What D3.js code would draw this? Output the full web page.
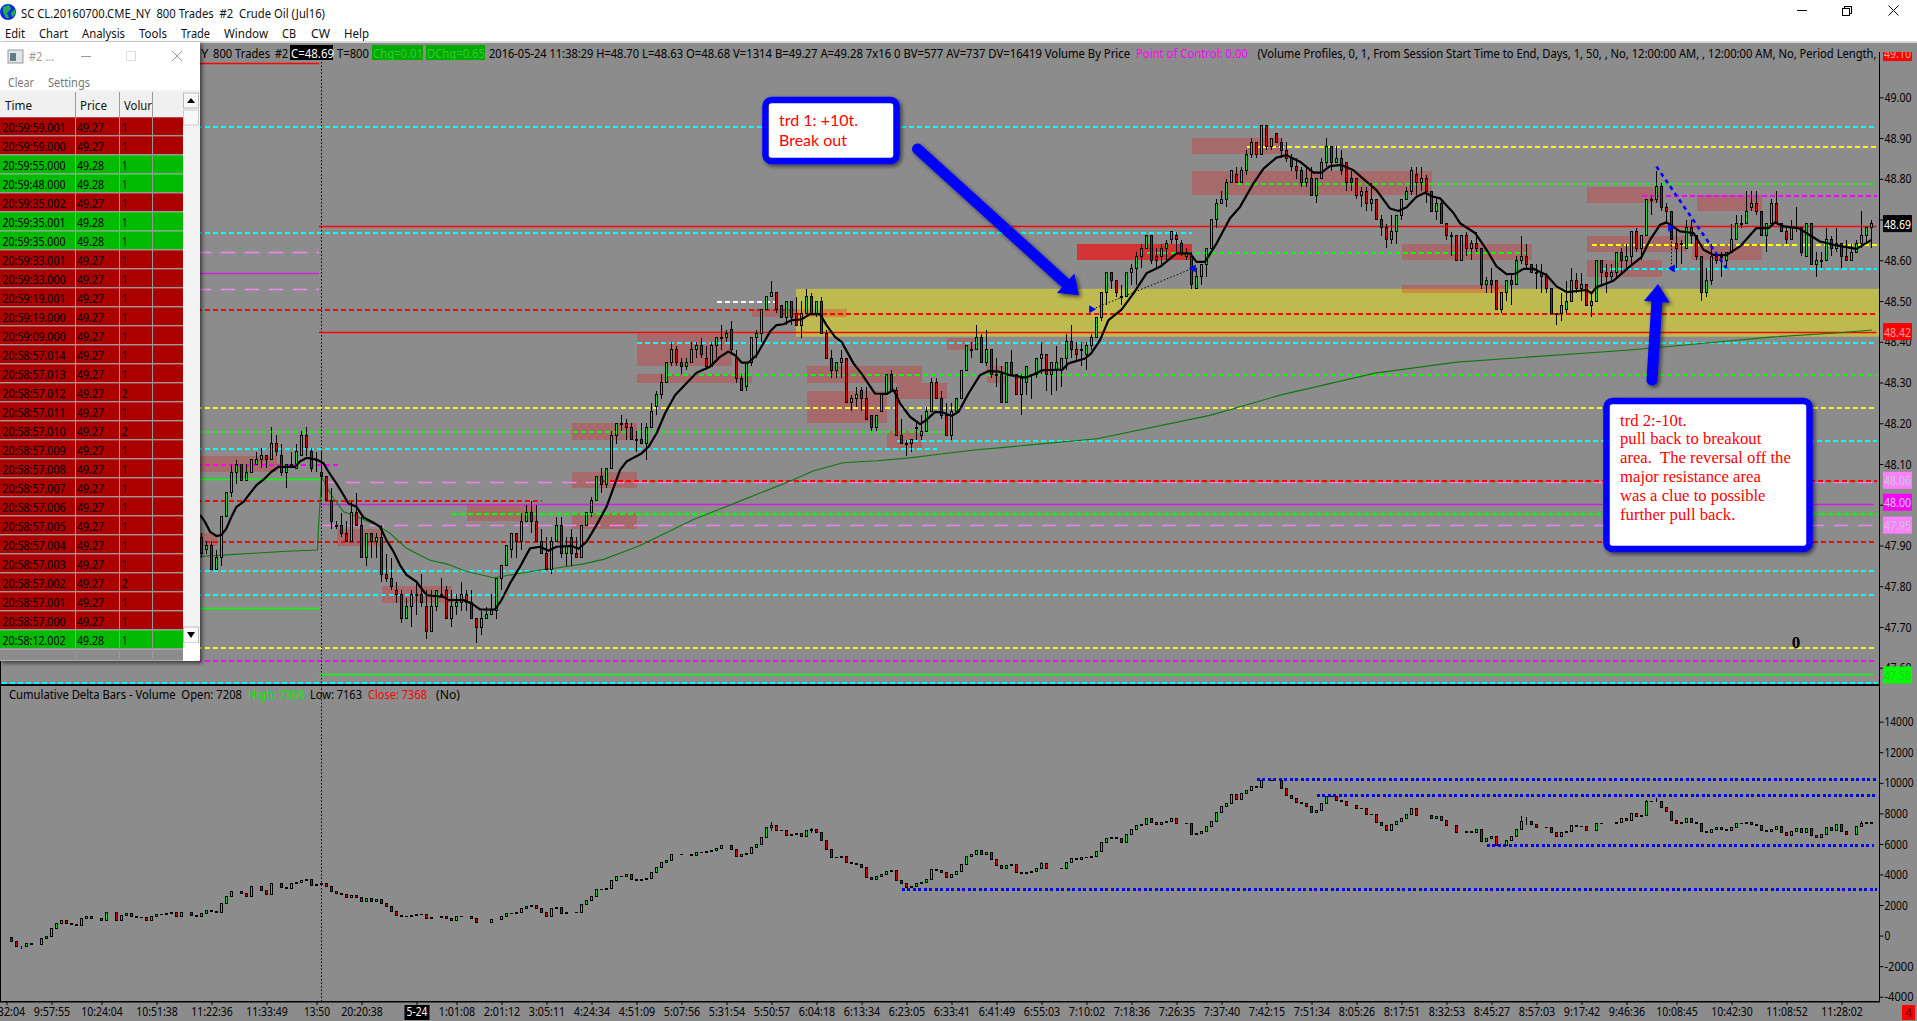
<!DOCTYPE html>
<html><head><meta charset="utf-8">
<script src="https://cdn.jsdelivr.net/npm/d3@7"></script>
<style>html,body{margin:0;padding:0;background:#fff;overflow:hidden}svg{display:block}</style>
</head><body><div id="c"></div>
<script>
// ===== PRICE BARS: [open, high, low, close] in hundredths of a dollar =====
const startA=40, priceBarsA=[
[4792,4793,4787,4788],[4789,4791,4788,4790],[4790,4791,4784,4784],[4784,4789,4784,4787],[4787,4797,4785,4797],[4797,4803,4797,4803],[4803,4810,4802,4808],[4808,4811,4805,4810],[4810,4810,4806,4806],[4806,4810,4806,4808],
[4808,4811,4808,4811],[4810,4813,4810,4811],[4811,4814,4809,4812],[4812,4812,4809,4811],[4811,4819,4811,4815],[4815,4817,4812,4813],[4812,4815,4807,4808],[4808,4810,4804,4810],[4810,4813,4809,4810],[4809,4815,4809,4813],
[4812,4818,4812,4817],[4817,4819,4812,4814],[4813,4814,4808,4809],[4811,4813,4808,4811],[4808,4813,4802,4807],[4807,4807,4801,4801],[4801,4804,4794,4796],[4795,4796,4794,4795],[4795,4798,4792,4793],[4793,4796,4791,4791],
[4791,4801,4791,4798],[4798,4803,4795,4795],[4795,4797,4787,4787],[4787,4793,4785,4793],[4793,4793,4787,4791],[4791,4793,4787,4792],[4792,4795,4781,4783],[4783,4788,4781,4782],[4782,4787,4779,4780],[4779,4781,4776,4778],
[4778,4779,4771,4772],[4772,4777,4772,4775],[4775,4779,4770,4778],[4778,4781,4773,4778],[4778,4783,4775,4776],[4775,4779,4767,4769],[4769,4779,4769,4775],[4775,4779,4774,4779],[4778,4782,4777,4778],[4779,4780,4772,4772],
[4772,4779,4770,4775],[4775,4778,4773,4776],[4776,4781,4774,4778],[4778,4779,4774,4776],[4776,4779,4772,4772],[4772,4772,4766,4770],[4770,4774,4768,4772],[4772,4775,4772,4773],[4773,4778,4773,4774],[4774,4782,4772,4782],
[4782,4785,4779,4785],[4785,4790,4785,4790],[4789,4793,4787,4793],[4793,4793,4787,4791],[4791,4798,4789,4796],[4796,4800,4796,4798],[4798,4801,4793,4796],[4796,4800,4791,4791],[4791,4794,4788,4788],[4788,4792,4784,4784],
[4784,4792,4783,4791],[4791,4797,4791,4795],[4795,4797,4787,4788],[4788,4792,4785,4790],[4792,4794,4785,4788],[4788,4792,4787,4787],[4787,4795,4787,4795],[4795,4798,4795,4798],[4798,4802,4797,4801],[4801,4807,4801,4807],
[4807,4809,4803,4805],[4805,4809,4804,4809],[4809,4818,4809,4817],[4817,4820,4815,4820]];
const startB=124, priceBarsB=[
[4820,4822,4818,4820],[4820,4821,4816,4819],[4819,4820,4816,4816],[4816,4818,4813,4816],[4816,4820,4815,4815],[4815,4820,4811,4819],[4819,4825,4819,4823],[4824,4828,4822,4827],[4827,4832,4826,4830],[4830,4835,4830,4835],
[4835,4840,4834,4838],[4838,4839,4834,4835],[4835,4836,4832,4834],[4834,4836,4833,4835],[4835,4840,4835,4838],[4838,4840,4836,4839],[4839,4841,4836,4837],[4836,4839,4833,4834],[4834,4840,4834,4839],[4839,4841,4836,4841],
[4841,4844,4838,4841],[4841,4843,4840,4842],[4843,4845,4837,4838],[4836,4838,4830,4831],[4831,4832,4828,4828],[4829,4835,4828,4835],[4835,4841,4834,4841],[4841,4843,4836,4842],[4842,4848,4840,4848],[4848,4851,4848,4851],
[4851,4855,4851,4852],[4852,4852,4847,4848],[4849,4849,4846,4846],[4846,4850,4844,4850],[4850,4850,4844,4846],[4847,4851,4844,4844],[4844,4850,4841,4847],[4847,4853,4847,4851],[4851,4852,4847,4847],[4847,4850,4846,4850],
[4850,4851,4842,4842],[4842,4843,4836,4836],[4836,4838,4831,4833],[4833,4835,4831,4835],[4835,4838,4831,4836],[4836,4836,4825,4825],[4825,4827,4823,4826],[4826,4829,4824,4827],[4828,4829,4823,4826],[4826,4829,4821,4821],
[4822,4822,4818,4819],[4819,4822,4818,4822],[4823,4827,4823,4827],[4827,4832,4827,4832],[4832,4833,4828,4828],[4828,4829,4817,4817],[4817,4821,4815,4815],[4815,4816,4812,4815],[4815,4816,4813,4816],[4819,4820,4816,4819],
[4817,4822,4816,4818],[4818,4824,4818,4823],[4823,4831,4823,4830],[4830,4831,4826,4826],[4826,4828,4821,4822],[4822,4825,4817,4817],[4817,4825,4816,4823],[4823,4826,4823,4826],[4826,4833,4826,4833],[4833,4839,4833,4839],
[4838,4840,4836,4838],[4838,4844,4838,4841],[4841,4842,4835,4835],[4835,4843,4834,4838],[4838,4838,4831,4832],[4832,4836,4829,4832],[4832,4834,4825,4825],[4825,4835,4825,4835],[4835,4838,4832,4832],[4832,4832,4827,4827],
[4827,4832,4822,4831],[4830,4834,4827,4834]];
const startC=206, priceBarsC=[
[4832,4832,4826,4832],[4832,4836,4831,4836],[4836,4840,4832,4837],[4837,4837,4828,4832],[4832,4835,4827,4835],[4833,4839,4828,4835],[4833,4836,4829,4836],[4836,4842,4833,4840],[4840,4844,4836,4838],[4838,4840,4835,4837],
[4838,4840,4834,4838],[4837,4840,4833,4839],[4839,4842,4838,4841],[4841,4846,4841,4846],[4846,4852,4845,4852],[4852,4857,4849,4857],[4857,4857,4853,4855],[4855,4855,4851,4852],[4851,4854,4849,4851],[4851,4857,4851,4857],
[4857,4859,4854,4858],[4858,4862,4854,4861],[4861,4864,4858,4863],[4863,4866,4863,4866],[4866,4866,4859,4860],[4861,4863,4858,4860],[4861,4864,4859,4863],[4863,4865,4860,4864],[4865,4867,4864,4867],[4866,4867,4862,4865],
[4864,4865,4861,4862],[4861,4863,4860,4862],[4861,4862,4853,4854],[4853,4858,4853,4856],[4856,4859,4854,4859],[4859,4863,4856,4863],[4863,4870,4863,4870],[4870,4875,4868,4874],[4874,4877,4874,4875],[4875,4880,4873,4879],
[4879,4882,4879,4882],[4881,4883,4879,4879],[4879,4883,4879,4882],[4882,4887,4881,4886],[4886,4890,4885,4889],[4889,4889,4885,4886],[4886,4893,4886,4893],[4893,4893,4887,4888],[4888,4890,4887,4890],[4891,4891,4889,4889],
[4889,4890,4885,4887],[4887,4889,4884,4885],[4885,4886,4882,4883],[4883,4885,4880,4882],[4882,4883,4878,4879],[4879,4883,4878,4880],[4880,4883,4876,4876],[4876,4880,4874,4880],[4880,4885,4880,4884],[4884,4890,4883,4888],
[4888,4888,4882,4884],[4884,4888,4884,4885],[4885,4887,4881,4882],[4884,4884,4877,4879],[4880,4882,4877,4879],[4880,4880,4875,4876],[4876,4878,4873,4877],[4877,4878,4872,4874],[4874,4879,4872,4875],[4875,4875,4870,4870],
[4870,4871,4866,4868],[4868,4869,4863,4865],[4865,4871,4864,4867],[4867,4871,4864,4871],[4871,4875,4870,4875],[4875,4878,4875,4877],[4877,4883,4876,4882],[4881,4883,4876,4879],[4879,4883,4877,4880],[4880,4881,4874,4877],
[4877,4877,4872,4872],[4872,4875,4870,4874]];
const startD=288, priceBarsD=[
[4874,4875,4869,4869],[4869,4869,4865,4866],[4866,4867,4861,4866],[4866,4866,4860,4860],[4860,4866,4860,4866],[4866,4867,4861,4863],[4863,4865,4860,4864],[4864,4867,4862,4863],[4863,4863,4853,4854],[4854,4856,4852,4855],
[4855,4858,4852,4854],[4855,4855,4848,4848],[4848,4852,4847,4852],[4852,4855,4850,4855],[4855,4857,4849,4854],[4854,4861,4854,4860],[4860,4866,4859,4861],[4861,4864,4858,4859],[4859,4859,4857,4857],[4857,4859,4853,4857],
[4857,4859,4852,4856],[4856,4857,4852,4853],[4853,4853,4847,4847],[4847,4847,4844,4847],[4847,4852,4845,4849],[4848,4855,4847,4850],[4850,4858,4850,4855],[4855,4857,4852,4853],[4853,4857,4850,4854],[4854,4854,4849,4849],
[4849,4852,4846,4850],[4850,4860,4850,4860],[4860,4860,4854,4857],[4857,4859,4852,4856],[4856,4859,4855,4857],[4857,4862,4856,4862],[4862,4863,4857,4860],[4860,4864,4858,4861],[4861,4867,4859,4867],[4867,4868,4862,4863],
[4863,4866,4860,4866],[4866,4875,4866,4875],[4875,4876,4871,4875],[4875,4882,4874,4878],[4878,4879,4872,4873],[4873,4874,4869,4872],[4872,4872,4865,4865],[4864,4868,4858,4863],[4864,4865,4859,4864],[4863,4870,4863,4868],
[4868,4870,4864,4866],[4866,4866,4860,4861],[4861,4861,4850,4852],[4852,4858,4851,4855],[4855,4864,4854,4861],[4861,4862,4859,4860],[4861,4862,4856,4861],[4860,4862,4858,4862],[4862,4869,4862,4865],[4865,4871,4865,4869],
[4869,4871,4868,4869],[4869,4877,4869,4872],[4873,4877,4872,4874],[4874,4877,4871,4872],[4872,4872,4866,4866],[4866,4869,4862,4869],[4869,4875,4869,4874],[4874,4877,4869,4869],[4869,4869,4867,4867],[4867,4868,4864,4865],
[4865,4870,4865,4868],[4868,4873,4867,4868],[4868,4868,4861,4862],[4861,4869,4861,4869],[4869,4869,4859,4859],[4859,4862,4856,4860],[4860,4862,4858,4860],[4860,4868,4860,4865],[4865,4866,4861,4863],[4863,4868,4862,4864],
[4864,4864,4858,4861],[4861,4865,4860,4860],[4860,4864,4860,4862],[4862,4865,4862,4864],[4864,4872,4863,4866],[4866,4868,4864,4868],[4868,4870,4863,4869]];

// ===== MOVING AVERAGES: [bar, price in hundredths] =====
const blackAverage=[[39.7,4797.5],[40.7,4795.8],[41.7,4793.4],[43,4792.3],[44,4792.6],[45,4794.2],[46,4797.1],[47,4799.5],[48.4,4800.7],[49.7,4802.8],[51,4804.8],[52.7,4806.5],[54,4808.1],[55.4,4809.3],[58.7,4809.3],[59.7,4810.6],[61,4811.5],[63,4811.1],[64.4,4810.2],[65.4,4808.1],[67,4805.2],[68.4,4802.4],[69.4,4800.3],[71,4799.5],[72.4,4796.9],[74.4,4795.6],[75.7,4794.6],[77,4791.3],[78.4,4788.5],[79.7,4785.2],[81,4782.8],[83,4781.1],[85,4777.8],[88.4,4777.4],[89.4,4776.6],[92.4,4776.6],[94,4775.8],[95.7,4774.3],[98.7,4774.3],[100,4776.6],[101.7,4780.7],[103.7,4784.8],[105.7,4789.3],[107.7,4789.7],[109.4,4788.7],[111,4789.7],[114,4789.9],[115.4,4789.2],[117,4790.9],[119,4795],[121,4799.5],[123.7,4808.5],[125,4810.6],[128,4812.6],[129.4,4814.2],[131,4817.5],[132.7,4822.4],[134.7,4826.9],[137,4829.8],[139,4832.4],[141.7,4833.9],[143.7,4836.3],[145.4,4837.6],[146.7,4836.7],[148,4834.9],[149.4,4834.9],[151,4836.7],[153.7,4842.5],[155,4844.1],[156.4,4844.3],[158,4845.3],[160,4845.5],[161.7,4846.8],[163.7,4846.8],[165,4844.1],[166.7,4841.2],[168,4840],[170.4,4834.7],[172,4832.2],[174.7,4827.3],[177,4827.2],[178.4,4828.2],[179.7,4824.9],[181.7,4821.6],[183.7,4819.8],[185,4820.8],[186.7,4822.8],[188.4,4822.6],[190,4821.8],[191.4,4822.8],[193.4,4827.3],[195.7,4831.8],[197.4,4832.8],[199.4,4832.7],[201.7,4831.8],[204.8,4831.2],[206.9,4832.2],[208.1,4833],[212.2,4833.2],[213.4,4834.7],[216.7,4835.9],[217.9,4837.1],[219.7,4840.4],[221.4,4845.3],[224,4847.9],[226.4,4851.9],[229,4856.8],[231.7,4858.4],[235,4861.7],[237.7,4861.7],[239,4859.6],[240.7,4859.6],[243,4864.1],[245.7,4870.3],[247.7,4873.1],[250.4,4878.9],[252.4,4882.5],[255,4885.2],[257,4885.8],[259.7,4884.2],[262.4,4881.5],[264,4881.5],[265.7,4883.1],[268,4883.4],[270.4,4882.1],[273,4879.3],[275,4877.2],[277.7,4872.7],[279.4,4872.1],[281,4873],[283,4875.6],[284.7,4876.6],[286.4,4875.6],[287.7,4875.2],[290.4,4871.6],[291.7,4869.1],[294.7,4866.7],[297,4862.6],[299,4858.5],[301,4856.6],[302.7,4856.7],[304.4,4857.9],[306.4,4857.9],[309,4856.4],[311,4853.6],[313,4852.2],[317,4852.7],[318,4851.9],[319,4853.4],[322.4,4855],[325.7,4858.5],[328,4860.8],[329.7,4865],[331.7,4868.7],[333,4869.3],[335.7,4867.1],[338.4,4866.7],[340.4,4862.6],[342.4,4861.3],[345,4861.3],[347.7,4863.4],[351,4867.9],[353.4,4867.9],[354.7,4869.3],[356.4,4868.3],[359.4,4867.9],[363.7,4864.6],[366.4,4863.8],[371,4862.8],[374,4865]];
const greenAverage=[[39.7,4787.3],[45,4787.7],[50.4,4788.1],[57,4788.6],[63.2,4788.9],[63.4,4794.6],[63.7,4800.3],[64,4806.9],[65,4804.4],[66.4,4801.6],[68.4,4798.3],[71,4797.1],[75,4795],[77.7,4793],[81,4789.3],[85.7,4786.4],[89,4785.5],[93,4783.6],[98.4,4782.1],[103,4783],[107.7,4784],[111.7,4784.6],[116.4,4785.5],[120.4,4786.6],[123.7,4788.1],[127.7,4790],[138.3,4796.3],[148.3,4801.2],[157.7,4805.8],[162.3,4808.3],[168.3,4810.3],[175.1,4810.8],[181.7,4811.5],[188.3,4812.5],[195.1,4813.5],[201.7,4814.2],[205.7,4814.7],[219.1,4816.2],[241.9,4822],[255.7,4826.9],[274.7,4832.3],[291.1,4835],[325.7,4838],[341.1,4839.7],[354.3,4841.2],[367.7,4842.2],[374.1,4842.9]];

// ===== PRICE LEVELS: [price, first bar, last bar] =====
const cyanLevels=[[48.93,39,375],[48.67,39,238],[48.40,127,375],[48.16,179,375],[48.14,39,187],[48.58,320,375],[47.84,39,375],[47.78,39,375],[47.564,0,375]];
const yellowLevels=[[48.88,249,375],[48.64,318,375],[48.24,39,375],[47.65,39,375]];
const greenLevels=[[48.79,247,375],[48.62,229,305],[48.32,133,375],[48.18,39,189],[47.98,90,375]];
const redLevels=[[48.48,39,158.7],[48.47,156,375],[48.06,120,375],[48.012,39,108],[47.91,39,375]];
const magentaLevels=[[48.76,328,375],[48.10,39,67.6],[47.62,39,375]];
const whiteLevels=[[48.50,143,155]];
const pinkLevels=[[48.62,39,63.5],[48.53,39,63.5],[48.057,64,375],[47.95,64,375]];
const solidRedLevels=[[49.085,39,63.5],[48.683,63.5,375],[48.423,63.5,375]];
const solidMagentaLevels=[[48.57,39,63.5],[48.003,63.5,374.5]];
const solidGreenLevels=[[48.063,39,63.5],[47.746,39,63.5],[47.585,63.5,374.5]];
// Volume profile boxes: [first bar, last bar, top price, bottom price]
const volumeBoxes=[[39.7,55,48.12,48.08],[39.7,43,47.93,47.90],[67,76,47.94,47.90],[76,90,47.80,47.76],[93,107,48.00,47.96],[114,127,48.20,48.16],[114,127,48.08,48.04],[114,127,47.98,47.94],[127,146,48.42,48.34],[127,150,48.32,48.30],[150,169,48.48,48.46],[161,184,48.34,48.30],[179,189,48.30,48.26],[161,177,48.28,48.20],[177,184,48.18,48.14],[189,195,48.41,48.38],[197,201,48.34,48.30],[238,256,48.90,48.86],[238,286,48.82,48.76],[280,306,48.64,48.60],[280,301,48.54,48.52],[317,332,48.78,48.74],[317,337,48.66,48.62],[317,332,48.60,48.56],[339,352,48.76,48.72],[338,352,48.64,48.60]];
const strongBoxes=[[215,238,48.64,48.60]];
const yellowZone=[158.9,375.5,48.53,48.4125];
// Right-hand price flags
const flagPrices=[49.10,48.69,48.42,48.06,48.00,47.95,47.58];
const flagKinds=['red','black','red','pink','magenta','pink','green'];
const flagNudge=[-4,0,-2,0,-2.5,0,-1];
const priceTicks=[49.0,48.9,48.8,48.7,48.6,48.5,48.4,48.3,48.2,48.1,48.0,47.9,47.8,47.7,47.6];

// ===== CUMULATIVE DELTA CLOSES (open = previous close) =====
const deltaClosesA=[-156,-156,-418,-702,-702,-549,-593,-593,-222,-91,454,781,978,760,716,651,1109,1262,1109,1109,1000,1480,1480,1000,1305,1414,1218,1174,1153,1000,1218,1349,1393,1414,1480,1218,1480,1480,1305,1218,1436,1611,1567,1502,2069,2527,2876,2876,2745,2527,3182,3182,2964,2702,3400,3400,3117,3073,3378,3466,3575,3662,3269,3357,3400,3182,2898,2745,2702,2484,2615,2462,2200,2418,2200,2353,2091,1916,1589,1327,1218,1262,1327,1349,1393,1087,1174,1174,1262,1087,956,1218,1240,1240,1109];
const deltaClosesB=[825,825,825,1043,1043,1218,1414,1436,1502,1742,1916,1982,1742,1524,1262,1742,1829,1414,1480,1480,1524,2025,2287,2527,2986,3029,3051,3575,3836,3880,3967,3640,3618,3662,3727,4098,4426,4753,4928,5299,5299,5277,5277,5233,5429,5451,5473,5582,5691,5888,5888,5604,5189,5277,5342,5735,5953,6389,7044,7219,6847,6869,6564,6608,6651,6455,6891,6935,6738,6193,5604,5080,5124,5189,4753,4709,4644,4426,3815,3640,3836,4011,4207,4273,3575,3400,3117,3182,3400,3444,3662,4295,4273,4098,3771,3967,4164];
const deltaClosesC=[4644,5167,5299,5582,5299,5451,4971,4600,4360,4578,4622,4142,4055,4098,4164,4360,4687,4404,4404,4404,4382,4753,5015,4971,5080,5102,5146,5517,6062,6368,6389,6324,6062,6586,6913,7197,7284,7677,7371,7240,7415,7459,7677,7350,7350,7328,6630,6695,6782,7131,7437,8026,8462,8659,9204,8921,9291,9488,9728,9706,10142,10142,10164,10164,9597,9139,8964,8681,8637,8419,8026,8201,8659,9095,9073,8811,8790,8506,8506,8288,8331,7917,7895,7371,7197,6891,7262,7437,7677,7917,8288,7873,7873,7873,7633,7808,7524];
const deltaClosesD=[7197,7197,6760,6760,6804,6760,6957,6171,6368,6499,5909,5909,6215,6455,6935,7459,7459,7240,7044,7044,7088,6717,6455,6717,6826,7175,7153,7131,6891,6891,7306,7350,7350,7350,7415,7633,7546,8004,7808,7830,8746,8768,8768,8397,8091,7546,7350,7393,7633,7415,7306,6826,6717,6935,7088,6935,6891,7088,7306,7350,7415,7240,7197,6891,6826,6957,7131,6717,6564,6804,6978,6717,6978,6542,6433,6608,7088,6891,7240,6826,6586,6586,7153,7306,7371,7368];
// Notable delta wicks: [bar, high, low]
const deltaWicks=[[4,-702,-876],[154,7415,6847],[162,7044,6738],[304,7808,6935],[305,7764,7240],[331,9008,8768],[372,7502,7153],[208,4800,4560],[186,4340,3900],[329,8850,7830]];
const deltaTicks=[14000,12000,10000,8000,6000,4000,2000,0,-2000,-4000];
// Delta levels: [value, first bar, last bar]
const deltaLevels=[[10275,251,375],[9182,263,375],[5910,297,374.5],[3076,180,375]];

// ===== TIME AXIS =====
const timeBars=[1,10,20,31,42,53,63,72,83,91,100,109,118,127,136,145,154,163,172,181,190,199,208,217,226,235,244,253,262,271,280,289,298,307,316,325,335,346,357,368];
const timeLabels=['9:32:04','9:57:55','10:24:04','10:51:38','11:22:36','11:33:49','13:50','20:20:38','5-24','1:01:08','2:01:12','3:05:11','4:24:34','4:51:09','5:07:56','5:31:54','5:50:57','6:04:18','6:13:34','6:23:05','6:33:41','6:41:49','6:55:03','7:10:02','7:18:36','7:26:35','7:37:40','7:42:15','7:51:34','8:05:26','8:17:51','8:32:53','8:45:27','8:57:03','9:17:42','9:46:36','10:08:45','10:42:30','11:08:52','11:28:02'];

// ===== TIME & SALES WINDOW =====
const tapeTimes=['20:59:59.001','20:59:59.000','20:59:55.000','20:59:48.000','20:59:35.002','20:59:35.001','20:59:35.000','20:59:33.001','20:59:33.000','20:59:19.001','20:59:19.000','20:59:09.000','20:58:57.014','20:58:57.013','20:58:57.012','20:58:57.011','20:58:57.010','20:58:57.009','20:58:57.008','20:58:57.007','20:58:57.006','20:58:57.005','20:58:57.004','20:58:57.003','20:58:57.002','20:58:57.001','20:58:57.000','20:58:12.002'];
const tapePrices=[49.27,49.27,49.28,49.28,49.27,49.28,49.28,49.27,49.27,49.27,49.27,49.27,49.27,49.27,49.27,49.27,49.27,49.27,49.27,49.27,49.27,49.27,49.27,49.27,49.27,49.27,49.27,49.28];
const tapeVolumes=[1,1,1,1,1,1,1,1,1,1,1,1,1,1,2,1,2,1,1,1,1,1,1,1,2,1,1,1];
const menuItems=['Edit','Chart','Analysis','Tools','Trade','Window','CB','CW','Help'];
const callout1=['trd 1: +10t.','Break out'];
const callout2=['trd 2:-10t.','pull back to breakout','area.  The reversal off the','major resistance area','was a clue to possible','further pull back.'];
// Annotations: [bar, price]
const bigArrows=[[[183.2,48.873],[215.5,48.514]],[[330.1,48.306],[331.3,48.542]]];
const blueTrend=[[331,48.83],[345,48.58]];
const fillLines=[[[218.2,48.48],[238.2,48.58]],[[334,48.68],[334,48.58]]];

// ===== DRAWING =====
const W=1917,H=1021,UI='"Noto Sans",sans-serif';
const C={gray:'#8c8c8c',green:'#10dd30',red:'#e00000',cyan:'#00ffff',yellow:'#ffff00',lime:'#00ff00',rd:'#ff0000',mag:'#ff00ff',pink:'#ee82ee',blue:'#0000ff'};
const svg=d3.select('#c').append('svg').attr('width',W).attr('height',H);
const defs=svg.append('defs');
const sh=defs.append('filter').attr('id','sh').attr('x','-20%').attr('y','-20%').attr('width','150%').attr('height','150%');
sh.append('feDropShadow').attr('dx',2).attr('dy',2).attr('stdDeviation',2).attr('flood-color','#000').attr('flood-opacity',.6);
defs.append('clipPath').attr('id','pp').append('rect').attr('x',0).attr('y',44).attr('width',1879).attr('height',640);
const x=d3.scaleLinear().domain([0,375]).range([1.5,1876.5]);
const y=d3.scaleLinear().domain([49,47.7]).range([97.3,627]);
const yd=d3.scaleLinear().domain([14000,-4000]).range([721.7,996.7]);

function label(g,s,px,py,o={}){
  const t=g.append('text').attr('x',px).attr('y',py).attr('dominant-baseline','central').text(s)
   .attr('font-family',o.family||UI).attr('font-size',o.size||13).attr('fill',o.fill||'#000').attr('text-anchor',o.anchor||'start');
  if(o.weight)t.attr('font-weight',o.weight);
  if(o.len)t.attr('textLength',o.len).attr('lengthAdjust','spacingAndGlyphs');
  if(o.style)t.attr('font-style',o.style);
  t.attr('xml:space','preserve').style('white-space','pre');
  return t;
}
// page
svg.append('rect').attr('width',W).attr('height',H).attr('fill',C.gray);
const chrome=svg.append('g');
chrome.append('rect').attr('width',W).attr('height',42).attr('fill','#fff');
chrome.append('rect').attr('y',41).attr('width',W).attr('height',2).attr('fill','#d8d8d8');

// ---- price pane
const pane=svg.append('g').attr('clip-path','url(#pp)');
pane.append('rect').attr('x',x(yellowZone[0])).attr('width',x(yellowZone[1])-x(yellowZone[0])).attr('y',y(yellowZone[2])).attr('height',y(yellowZone[3])-y(yellowZone[2])).attr('fill','#bdbb50');
function boxes(list,op){pane.append('g').selectAll('rect').data(list).join('rect')
  .attr('x',d=>x(d[0])).attr('width',d=>x(d[1])-x(d[0])).attr('y',d=>y(d[2])).attr('height',d=>y(d[3])-y(d[2])).attr('fill','#ff0000').attr('fill-opacity',op).attr('shape-rendering','crispEdges');}
boxes(volumeBoxes,.24);boxes(strongBoxes,.62);
function levels(g,sc,list,color,width,dash,crisp=true){g.append('g').selectAll('line').data(list).join('line')
  .attr('x1',d=>x(d[1])).attr('x2',d=>x(d[2])).attr('y1',d=>Math.round(sc(d[0]))+.5).attr('y2',d=>Math.round(sc(d[0]))+.5)
  .attr('stroke',color).attr('stroke-width',width).attr('stroke-dasharray',dash).attr('shape-rendering',crisp?'crispEdges':'auto');}
levels(pane,y,solidMagentaLevels,'#cc22dd',1.3,null,false);
levels(pane,y,pinkLevels,C.pink,1.3,'15,9',false);
levels(pane,y,solidGreenLevels,C.lime,1.4,null,false);
levels(pane,y,solidRedLevels,C.rd,1.5,null,false);
const D='5,3';
levels(pane,y,cyanLevels,C.cyan,2,D);levels(pane,y,yellowLevels,C.yellow,2,D);levels(pane,y,greenLevels,C.lime,2,D);
levels(pane,y,redLevels,C.rd,2,D);levels(pane,y,magentaLevels,C.mag,2,D);levels(pane,y,whiteLevels,'#ffffff',2,D);
// dark green average
const line=d3.line().x(d=>x(d[0])).y(d=>y(d[1]/100));
pane.append('path').attr('d',line(greenAverage)).attr('fill','none').attr('stroke','#0c7a0c').attr('stroke-width',1.1);
// candles
function mk(start,arr){return arr.map((b,k)=>({i:start+k,o:b[0]/100,h:b[1]/100,l:b[2]/100,c:b[3]/100}));}
const priceBars=[...mk(startA,priceBarsA),...mk(startB,priceBarsB),...mk(startC,priceBarsC),...mk(startD,priceBarsD)];
function colorOf(d){return d.c>d.o?C.green:C.red;}
const pc=pane.append('g').selectAll('g').data(priceBars).join('g');
pc.append('line').attr('x1',d=>x(d.i)).attr('x2',d=>x(d.i)).attr('y1',d=>y(d.h)).attr('y2',d=>y(d.l)).attr('stroke','#000').attr('stroke-width',1).attr('shape-rendering','crispEdges');
pc.append('rect').attr('x',d=>x(d.i)-1).attr('width',2).attr('y',d=>y(Math.max(d.o,d.c))).attr('height',d=>Math.max(1,Math.abs(y(d.o)-y(d.c))))
  .attr('fill',d=>d.o===d.c?'#000':colorOf(d)).attr('stroke','#000').attr('stroke-width',1).attr('shape-rendering','crispEdges');
// black average
pane.append('path').attr('d',line(blackAverage)).attr('fill','none').attr('stroke','#000').attr('stroke-width',2.2).attr('stroke-linejoin','round');
// thin dotted fills + markers
pane.append('g').selectAll('line').data(fillLines).join('line')
 .attr('x1',d=>x(d[0][0])).attr('y1',d=>y(d[0][1])).attr('x2',d=>x(d[1][0])).attr('y2',d=>y(d[1][1]))
 .attr('stroke','#000').attr('stroke-width',1).attr('stroke-dasharray','1.5,2');
fillLines.forEach(f=>{
  const tri=d3.symbol().type(d3.symbolTriangle).size(28)();
  pane.append('path').attr('d',tri).attr('fill',C.blue).attr('transform',`translate(${x(f[0][0])-1},${y(f[0][1])}) rotate(90)`);
  pane.append('path').attr('d',tri).attr('fill',C.blue).attr('transform',`translate(${x(f[1][0])+1},${y(f[1][1])}) rotate(-90)`);
});
pane.append('line').attr('x1',x(blueTrend[0][0])).attr('y1',y(blueTrend[0][1])).attr('x2',x(blueTrend[1][0])).attr('y2',y(blueTrend[1][1]))
 .attr('stroke',C.blue).attr('stroke-width',2.6).attr('stroke-dasharray','4,4');
// big arrows
bigArrows.forEach(a=>{
  const x0=x(a[0][0]),y0=y(a[0][1]),x1=x(a[1][0]),y1=y(a[1][1]);
  const L=Math.hypot(x1-x0,y1-y0),ux=(x1-x0)/L,uy=(y1-y0)/L,nx=-uy,ny=ux;
  const bx=x1-ux*18,by=y1-uy*18;
  const g=svg.append('g').attr('filter','url(#sh)');
  g.append('line').attr('x1',x0).attr('y1',y0).attr('x2',bx).attr('y2',by).attr('stroke',C.blue).attr('stroke-width',11).attr('stroke-linecap','round');
  g.append('path').attr('d',`M${x1},${y1}L${bx+nx*13},${by+ny*13}L${bx-nx*13},${by-ny*13}Z`).attr('fill',C.blue);
});
// callouts
function callout(px,py,w,h){return svg.append('rect').attr('x',px).attr('y',py).attr('width',w).attr('height',h).attr('rx',6).attr('fill','#fff').attr('stroke',C.blue).attr('stroke-width',6.5).attr('filter','url(#sh)');}
callout(765.5,100,131,61);
callout1.forEach((s,k)=>label(svg,s,779,119+k*20,{family:'Lato,sans-serif',size:16,fill:C.rd}));
callout(1606.5,401,203,148);
callout2.forEach((s,k)=>label(svg,s,1620,420+k*18.9,{family:'"Liberation Serif",serif',size:16.7,fill:C.rd}));
label(svg,'0',1796,642,{size:17,weight:'bold',anchor:'middle',family:'"Liberation Serif",serif'});

// ---- flags & axis
const flagFill={red:'#ff0000',black:'#000000',pink:'#ff80ff',magenta:'#ff00ff',green:'#00ff00'};
const flagText={red:'#ffa0a0',black:'#ffffff',pink:'#c8c8c8',magenta:'#d0d0d0',green:'#22cc22'};
const priceAxis=svg.append('g').attr('transform','translate(1879.5,0)').call(d3.axisRight(y).tickValues(priceTicks).tickSize(4).tickPadding(1).tickFormat(d3.format('.2f')));
priceAxis.selectAll('text').attr('font-family',UI).attr('font-size',13).attr('fill','#000').attr('textLength',27).attr('lengthAdjust','spacingAndGlyphs');
priceAxis.selectAll('line').attr('stroke','#000');
priceAxis.select('.domain').attr('stroke','#000').attr('d','M0,44V685');
flagPrices.forEach((p,k)=>{
  const k2=flagKinds[k],cy=y(p)+flagNudge[k];
  svg.append('rect').attr('x',1883).attr('y',cy-8.5).attr('width',29).attr('height',17).attr('fill',flagFill[k2]);
  label(svg,p.toFixed(2),1884,cy,{size:13,fill:flagText[k2],len:27});
});

// ---- top info strip
svg.append('rect').attr('y',43).attr('width',W).attr('height',9).attr('fill',C.gray);
svg.append('rect').attr('y',43).attr('width',1879).attr('height',18).attr('fill',C.gray);
const HY=53;
svg.append('rect').attr('x',290).attr('y',45).attr('width',43).attr('height',15).attr('fill','#000');
svg.append('rect').attr('x',372).attr('y',45).attr('width',51).attr('height',15).attr('fill','#00aa00');
svg.append('rect').attr('x',426).attr('y',45).attr('width',59).attr('height',15).attr('fill','#00aa00');
label(svg,'Y',201,HY);label(svg,'800 Trades',213,HY,{len:57});label(svg,'#2',275,HY,{len:13});
label(svg,'C=48.69',291,HY,{fill:'#fff',len:43});label(svg,'T=800',337,HY,{len:32});
label(svg,'Chg=0.01',373,HY,{fill:'#33cc33',len:50});label(svg,'DChg=0.65',427,HY,{fill:'#33cc33',len:58});
label(svg,'2016-05-24 11:38:29 H=48.70',489,HY,{len:150});
label(svg,'L=48.63 O=48.68 V=1314 B=49.27 A=49.28 7x16 0 BV=577 AV=737 DV=16419 Volume By Price',642,HY,{len:488});
label(svg,'Point of Control: 0.00',1136,HY,{fill:C.mag,len:112});
label(svg,'(Volume Profiles, 0, 1, From Session Start Time to End, Days, 1, 50, , No, 12:00:00 AM, , 12:00:00 AM, No, Period Length,',1257.5,HY,{len:619});

// ---- delta pane
const lower=svg.append('g');
levels(lower,yd,deltaLevels,C.blue,2.5,'3,2.5');
let prev=deltaClosesA[0];
const deltaBars=[...deltaClosesA,...deltaClosesB,...deltaClosesC,...deltaClosesD].map((c,i)=>{const o=prev;prev=c;return{i,o,c};});
const dw=new Map(deltaWicks.map(d=>[d[0],d]));
const dc=lower.append('g').selectAll('g').data(deltaBars).join('g');
dc.filter(d=>dw.has(d.i)).append('line').attr('x1',d=>x(d.i)).attr('x2',d=>x(d.i)).attr('y1',d=>yd(dw.get(d.i)[1])).attr('y2',d=>yd(dw.get(d.i)[2])).attr('stroke','#000').attr('shape-rendering','crispEdges');
dc.append('rect').attr('x',d=>x(d.i)-1).attr('width',2).attr('y',d=>yd(Math.max(d.o,d.c))).attr('height',d=>Math.abs(yd(d.o)-yd(d.c)))
  .attr('fill',d=>d.c>d.o?C.green:(d.c<d.o?C.red:'#000')).attr('stroke','#000').attr('stroke-width',1).attr('shape-rendering','crispEdges');
const deltaAxis=svg.append('g').attr('transform','translate(1879.5,0)').call(d3.axisRight(yd).tickValues(deltaTicks).tickSize(4).tickPadding(1).tickFormat(d=>String(d)));
deltaAxis.selectAll('text').attr('font-family',UI).attr('font-size',13).attr('fill','#000').each(function(d){d3.select(this).attr('textLength',String(d).length*5.8).attr('lengthAdjust','spacingAndGlyphs');});
deltaAxis.selectAll('line').attr('stroke','#000');
deltaAxis.select('.domain').attr('stroke','#000').attr('d','M0,685V1001');
label(svg,'Cumulative Delta Bars - Volume  Open: 7208',9,694,{len:233});
label(svg,'High: 7368',248,694,{fill:'#00ee00',len:57});label(svg,'Low: 7163',310,694,{len:52});
label(svg,'Close: 7368',368,694,{fill:C.rd,len:59});label(svg,'(No)',436,694,{len:24});

// frame lines
svg.append('rect').attr('x',0).attr('y',684).attr('width',1880).attr('height',2).attr('fill','#000');
svg.append('rect').attr('x',0).attr('y',1001).attr('width',1880).attr('height',1.5).attr('fill','#000');
svg.append('rect').attr('x',0).attr('y',660).attr('width',1).attr('height',341).attr('fill','#000');
svg.append('line').attr('x1',x(64)).attr('x2',x(64)).attr('y1',62).attr('y2',1001).attr('stroke','#000').attr('stroke-dasharray','1.5,2');

// ---- time axis
const timeAxis=svg.append('g').attr('transform','translate(0,1001)').call(d3.axisBottom(x).tickValues(timeBars).tickSize(4).tickPadding(2).tickFormat((d,k)=>timeLabels[k]));
timeAxis.select('.domain').remove();
timeAxis.selectAll('line').attr('stroke','#000');
timeAxis.selectAll('.tick').each(function(d,k){
  const t=d3.select(this);
  const txt=t.select('text').attr('font-family',UI).attr('font-size',13).attr('fill','#000').attr('y',5).attr('dy','0.75em')
    .attr('textLength',timeLabels[k].length*5.2).attr('lengthAdjust','spacingAndGlyphs');
  if(timeLabels[k]==='5-24'){
    t.insert('rect','text').attr('x',-12.5).attr('y',4).attr('width',25).attr('height',15).attr('fill','#000');
    txt.attr('fill','#fff');
  }
});
svg.append('rect').attr('x',1902).attr('y',1005).attr('width',13).attr('height',15).attr('fill','#ff0000');
label(svg,'4',1908.5,1012,{anchor:'middle',fill:'#600'});

// ---- window chrome
svg.append('circle').attr('cx',8).attr('cy',12).attr('r',8).attr('fill','#0a2fd8');
svg.append('path').attr('d','M3,7 L9,5 L11,9 L7,13 L9,18 L6,18 L3,12Z').attr('fill','#22b14c');
svg.append('path').attr('d','M11,13 L15,9 L15.5,14 L12,17Z').attr('fill','#22b14c');
label(svg,'SC CL.20160700.CME_NY  800 Trades  #2  Crude Oil (Jul16)',21,13,{len:304,fill:'#111'});
const menuX=[5,39,82,139,181,224,282,311,344], menuLen=[20,29,43,28,29,44,14,19,25];
menuItems.forEach((m,k)=>label(svg,m,menuX[k],33,{len:menuLen[k],fill:'#111'}));
svg.append('line').attr('x1',1797).attr('x2',1807).attr('y1',10.5).attr('y2',10.5).attr('stroke','#000');
svg.append('rect').attr('x',1844.5).attr('y',6.5).attr('width',7).attr('height',7).attr('fill','none').attr('stroke','#000');
svg.append('rect').attr('x',1842.5).attr('y',8.5).attr('width',7).attr('height',7).attr('fill','#fff').attr('stroke','#000');
svg.append('path').attr('d','M1888.5,5.5L1898.5,15.5M1898.5,5.5L1888.5,15.5').attr('stroke','#000').attr('fill','none');

// ---- time & sales window
const P=svg.append('g');
P.append('rect').attr('x',0).attr('y',42).attr('width',200).attr('height',619).attr('fill','#fff').attr('filter','url(#sh)');
P.append('rect').attr('x',8).attr('y',50).attr('width',15).attr('height',13).attr('fill','#dfe6e6').attr('stroke','#999');
P.append('rect').attr('x',10).attr('y',53).attr('width',6).attr('height',8).attr('fill','#607f80');
label(P,'#2 ...',29,56,{fill:'#999',len:25});
P.append('line').attr('x1',81).attr('x2',91).attr('y1',56.5).attr('y2',56.5).attr('stroke','#999');
P.append('rect').attr('x',126.5).attr('y',51.5).attr('width',9).attr('height',9).attr('fill','none').attr('stroke','#ddd');
P.append('path').attr('d','M172,51L182,61M182,51L172,61').attr('stroke','#999').attr('fill','none');
label(P,'Clear',8,82,{fill:'#777',len:26});label(P,'Settings',48,82,{fill:'#777',len:42});
P.append('rect').attr('x',0).attr('y',90).attr('width',200).attr('height',3).attr('fill','#f2f2f2');
P.append('rect').attr('x',0).attr('y',92).attr('width',183).attr('height',25).attr('fill','#f0f0f0');
const colX=[75.5,119.5,152.5];
label(P,'Time',5,105,{len:27,fill:'#111'});label(P,'Price',80,105,{len:27,fill:'#111'});label(P,'Volur',124,105,{len:28,fill:'#111'});
const rowY=d3.scaleLinear().domain([0,1]).range([117.3,136.3]);
const row=P.append('g').selectAll('g').data(tapeTimes).join('g');
row.append('rect').attr('x',0).attr('width',183).attr('y',(d,k)=>rowY(k)).attr('height',19).attr('fill',(d,k)=>tapePrices[k]>=49.28?'#00bb00':'#aa0000');
row.append('line').attr('x1',0).attr('x2',183).attr('y1',(d,k)=>rowY(k)+18.5).attr('y2',(d,k)=>rowY(k)+18.5).attr('stroke','#999').attr('shape-rendering','crispEdges');
row.each(function(d,k){
  const g=d3.select(this),c=rowY(k)+9.5;
  label(g,d,2.5,c,{len:63,fill:'#000'});
  label(g,tapePrices[k].toFixed(2),77,c,{len:27,fill:'#000'});
  label(g,String(tapeVolumes[k]),122,c,{len:5.5,fill:'#000'});
});
P.append('rect').attr('x',0).attr('y',rowY(28)).attr('width',183).attr('height',660.7-rowY(28)).attr('fill',C.gray);
P.append('g').selectAll('line').data(colX).join('line').attr('x1',d=>d).attr('x2',d=>d).attr('y1',92).attr('y2',660.7).attr('stroke','#999').attr('shape-rendering','crispEdges');
P.append('rect').attr('x',183).attr('y',92).attr('width',17).attr('height',569).attr('fill','#f4f4f4');
P.append('rect').attr('x',183.5).attr('y',93).attr('width',15).attr('height',15).attr('fill','#f8f8f8').attr('stroke','#bbb');
P.append('path').attr('d','M187,103H195L191,98Z').attr('fill','#000');
P.append('rect').attr('x',183.5).attr('y',110).attr('width',15).attr('height',15).attr('fill','#f8f8f8').attr('stroke','#ccc');
P.append('rect').attr('x',183.5).attr('y',627).attr('width',15).attr('height',16).attr('fill','#f8f8f8').attr('stroke','#bbb');
P.append('path').attr('d','M187,632H195L191,638Z').attr('fill','#000');
P.append('rect').attr('x',183).attr('y',643).attr('width',17).attr('height',18).attr('fill','#fff');
</script></body></html>
